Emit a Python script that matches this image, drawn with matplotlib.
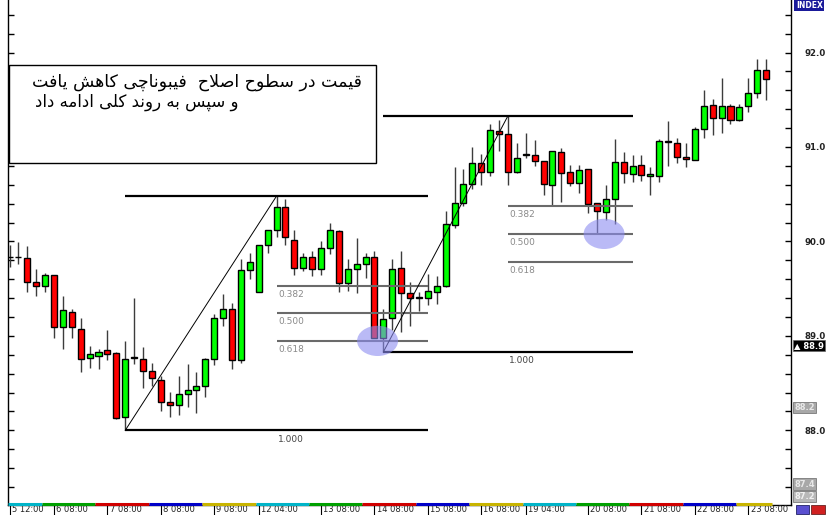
import matplotlib
matplotlib.use("Agg")
import matplotlib.pyplot as plt
import matplotlib.transforms as mtransforms
from matplotlib.patches import Rectangle, Ellipse

# 4h candles
opens = [89.84, 89.84, 89.83, 89.57, 89.53, 89.64, 89.09, 89.25, 89.07, 88.77,
         88.79, 88.85, 88.82, 88.14, 88.78, 88.76, 88.63, 88.53, 88.30, 88.27,
         88.39, 88.43, 88.47, 88.76, 89.19, 89.29, 88.75, 89.70, 89.47, 89.96,
         90.12, 90.36, 90.02, 89.72, 89.84, 89.71, 89.93, 90.11, 89.56, 89.71,
         89.76, 89.84, 88.98, 89.19, 89.72, 89.45, 89.41, 89.40, 89.47, 89.53,
         90.17, 90.41, 90.61, 90.83, 90.73, 91.17, 91.14, 90.73, 90.93, 90.91,
         90.85, 90.60, 90.95, 90.73, 90.62, 90.77, 90.41, 90.31, 90.45, 90.84,
         90.71, 90.81, 90.69, 90.69, 91.06, 91.04, 90.89, 90.86, 91.19, 91.44,
         91.31, 91.43, 91.29, 91.43, 91.57, 91.82]
highs = [89.96, 89.99, 89.95, 89.71, 89.67, 89.65, 89.42, 89.28, 89.19, 88.89,
         88.86, 89.06, 88.83, 88.95, 89.40, 88.88, 88.71, 88.58, 88.41, 88.58,
         88.70, 88.62, 88.77, 89.23, 89.44, 89.35, 89.81, 89.88, 89.96, 90.12,
         90.48, 90.45, 90.12, 89.88, 89.90, 90.00, 90.20, 90.12, 89.81, 90.04,
         89.88, 89.90, 89.28, 89.81, 89.90, 89.57, 89.47, 89.66, 89.63, 90.32,
         90.79, 90.77, 91.00, 90.93, 91.24, 91.29, 91.33, 91.04, 91.15, 91.07,
         90.85, 90.96, 90.99, 90.81, 90.81, 90.77, 90.41, 90.60, 91.08, 90.95,
         90.92, 90.92, 90.79, 91.08, 91.28, 91.09, 91.04, 91.21, 91.60, 91.51,
         91.73, 91.46, 91.45, 91.73, 91.93, 91.93]
lows = [89.73, 89.76, 89.46, 89.42, 89.46, 88.98, 88.86, 88.98, 88.62, 88.66,
        88.65, 88.75, 88.12, 88.00, 88.70, 88.45, 88.47, 88.21, 88.14, 88.16,
        88.25, 88.18, 88.35, 88.69, 89.10, 88.65, 88.71, 89.60, 89.47, 89.88,
        90.05, 89.96, 89.65, 89.69, 89.63, 89.65, 89.87, 89.46, 89.48, 89.45,
        89.61, 88.98, 88.83, 89.06, 89.04, 89.11, 89.26, 89.33, 89.34, 89.52,
        90.14, 90.37, 90.55, 90.60, 90.69, 90.96, 90.60, 90.72, 90.88, 90.80,
        90.49, 90.38, 90.42, 90.59, 90.51, 90.30, 90.09, 90.23, 90.18, 90.62,
        90.63, 90.64, 90.49, 90.63, 90.80, 90.83, 90.79, 90.86, 91.10, 91.13,
        91.15, 91.24, 91.28, 91.37, 91.52, 91.50]
closes = [89.835, 89.835, 89.57, 89.53, 89.64, 89.09, 89.27, 89.09, 88.76, 88.81,
          88.83, 88.81, 88.13, 88.76, 88.77, 88.63, 88.55, 88.30, 88.27, 88.39,
          88.43, 88.47, 88.76, 89.19, 89.29, 88.74, 89.70, 89.78, 89.96, 90.12,
          90.36, 90.05, 89.72, 89.84, 89.71, 89.93, 90.12, 89.56, 89.71, 89.76,
          89.84, 88.98, 89.18, 89.71, 89.45, 89.40, 89.40, 89.48, 89.53, 90.18,
          90.41, 90.61, 90.83, 90.73, 91.18, 91.14, 90.74, 90.88, 90.91, 90.85,
          90.61, 90.96, 90.72, 90.62, 90.76, 90.40, 90.32, 90.45, 90.84, 90.72,
          90.80, 90.70, 90.71, 91.06, 91.05, 90.89, 90.87, 91.19, 91.43, 91.31,
          91.43, 91.29, 91.42, 91.57, 91.82, 91.72]

time_idx = [0, 5, 11, 17, 23, 28, 35, 41, 47, 53, 58, 65, 71, 77, 83]
time_labels = ["5 12:00", "6 08:00", "7 08:00", "8 08:00", "9 08:00", "12 04:00",
               "13 08:00", "14 08:00", "15 08:00", "16 08:00", "19 04:00",
               "20 08:00", "21 08:00", "22 08:00", "23 08:00"]

# fibonacci swings: (low candle, high candle, right end of lines)
fib_swings = [(13, 30, 47), (42, 56, 70)]
fib_levels = [0.382, 0.500, 0.618]
# touched level for each swing (circled) and where the circle sits
fib_touch = [0.618, 0.500]
touch_x = [41.35, 66.8]

price_ticks = [88, 89, 90, 91, 92]
side_tags = [("\u25b2 88.9", 88.90, "black", "white"),
             ("88.2", 88.24, "#a8a8a8", "#e8e8e8"),
             ("87.4", 87.43, "#a8a8a8", "#e8e8e8"),
             ("87.2", 87.30, "#b8b8b8", "#f0f0f0")]

note_lines = ["قیمت در سطوح اصلاح  فیبوناچی کاهش یافت",
              "و سپس به روند کلی ادامه داد"]

# band colours under the time axis, every 6 candles
band_colors = ["#00b4c8", "#00a000", "#d00000", "#0000c8", "#c8b400"]


# --- minimal arabic/persian shaping, matplotlib has no bidi support ---
FORMS = {
    '\u0627': (0xFE8D, 0xFE8E),
    '\u0628': (0xFE8F, 0xFE90, 0xFE91, 0xFE92),
    '\u067E': (0xFB56, 0xFB57, 0xFB58, 0xFB59),
    '\u062A': (0xFE95, 0xFE96, 0xFE97, 0xFE98),
    '\u0686': (0xFB7A, 0xFB7B, 0xFB7C, 0xFB7D),
    '\u062D': (0xFEA1, 0xFEA2, 0xFEA3, 0xFEA4),
    '\u062F': (0xFEA9, 0xFEAA),
    '\u0631': (0xFEAD, 0xFEAE),
    '\u0633': (0xFEB1, 0xFEB2, 0xFEB3, 0xFEB4),
    '\u0634': (0xFEB5, 0xFEB6, 0xFEB7, 0xFEB8),
    '\u0635': (0xFEB9, 0xFEBA, 0xFEBB, 0xFEBC),
    '\u0637': (0xFEC1, 0xFEC2, 0xFEC3, 0xFEC4),
    '\u0641': (0xFED1, 0xFED2, 0xFED3, 0xFED4),
    '\u0642': (0xFED5, 0xFED6, 0xFED7, 0xFED8),
    '\u0643': (0xFED9, 0xFEDA, 0xFEDB, 0xFEDC),
    '\u06A9': (0xFB8E, 0xFB8F, 0xFB90, 0xFB91),
    '\u0644': (0xFEDD, 0xFEDE, 0xFEDF, 0xFEE0),
    '\u0645': (0xFEE1, 0xFEE2, 0xFEE3, 0xFEE4),
    '\u0646': (0xFEE5, 0xFEE6, 0xFEE7, 0xFEE8),
    '\u0647': (0xFEE9, 0xFEEA, 0xFEEB, 0xFEEC),
    '\u0648': (0xFEED, 0xFEEE),
    '\u064A': (0xFEF1, 0xFEF2, 0xFEF3, 0xFEF4),
    '\u06CC': (0xFBFC, 0xFBFD, 0xFBFE, 0xFBFF),
}


def shape(text):
    out = []
    i = 0
    while i < len(text):
        c = text[i]
        if c not in FORMS:
            out.append(c)
            i += 1
            continue
        prev = text[i - 1] if i > 0 else ''
        p = prev in FORMS and len(FORMS[prev]) == 4
        if c == '\u0644' and i + 1 < len(text) and text[i + 1] == '\u0627':
            out.append(chr(0xFEFC if p else 0xFEFB))
            i += 2
            continue
        nxt = text[i + 1] if i + 1 < len(text) else ''
        q = len(FORMS[c]) == 4 and nxt in FORMS
        f = FORMS[c]
        if p and q:
            out.append(chr(f[3]))
        elif p:
            out.append(chr(f[1]))
        elif q:
            out.append(chr(f[2]))
        else:
            out.append(chr(f[0]))
        i += 1
    return ''.join(reversed(out))


W, H = 826, 515
fig = plt.figure(figsize=(W / 100, H / 100), dpi=100)
ax = fig.add_axes([8 / W, 10 / H, 783 / W, 505 / H])
ax.set_xlim(-0.17, 87.8)
ax.set_ylim(87.21, 92.556)

n = len(opens)
x = list(range(n))

# wicks then bodies
ax.vlines(x, lows, highs, color='#3c3c3c', lw=1, zorder=2)
bottoms = [min(o, c) for o, c in zip(opens, closes)]
heights = [max(abs(c - o), 0.004) for o, c in zip(opens, closes)]
colors = ['#00ff00' if c > o else '#ff0000' for o, c in zip(opens, closes)]
ax.bar(x, heights, bottom=bottoms, width=0.68, color=colors,
       edgecolor='black', linewidth=1, zorder=3)

# fibonacci retracements
for k, (lo_i, hi_i, end) in enumerate(fib_swings):
    lo, hi = lows[lo_i], highs[hi_i]
    rng = hi - lo
    ax.plot([lo_i, hi_i], [lo, hi], color='black', lw=0.7, zorder=4)
    ax.hlines([hi, lo], lo_i, end, color='black', lw=1.6, zorder=4)
    for lev in fib_levels:
        y = hi - lev * rng
        ax.hlines(y, hi_i, end, color='#6a6a6a', lw=1.5, zorder=4)
        ax.annotate(f"{lev:.3f}", (hi_i, y), xytext=(1, -3),
                    textcoords='offset points', ha='left', va='top',
                    fontsize=6.5, color='#8a8a8a')
    ax.annotate("1.000", (hi_i, lo), xytext=(1, -3), textcoords='offset points',
                ha='left', va='top', fontsize=6.5, color='#444444')
    yt = hi - fib_touch[k] * rng
    ax.add_patch(Ellipse((touch_x[k], yt), 4.6, 0.32, facecolor='#8c8cf0',
                         edgecolor='none', alpha=0.6, zorder=5))

# note box
ax.add_patch(Rectangle((-0.06, 90.83), 41.2, 1.04, facecolor='white',
                       edgecolor='black', lw=1, zorder=6))
ax.text(2.5, 91.69, shape(note_lines[0]), fontsize=12.5, family=['DejaVu Sans'],
        ha='left', va='center', zorder=7)
ax.text(2.9, 91.48, shape(note_lines[1]), fontsize=12, family=['DejaVu Sans'],
        ha='left', va='center', zorder=7)

# axes styling
for s in ['left', 'right', 'bottom']:
    ax.spines[s].set_linewidth(1)
ax.spines['top'].set_visible(False)
ax.yaxis.tick_right()
ax.set_yticks(price_ticks)
ax.set_yticklabels([f"{p:.1f}" for p in price_ticks])
ax.set_yticks([88 + 0.2 * i for i in range(-3, 23)], minor=True)
ax.tick_params(axis='y', which='both', left=True, right=True, direction='in',
               length=4, width=1, labelsize=6.2, pad=10)
for t in ax.get_yticklabels():
    t.set_fontweight('bold')
    t.set_color('#222222')

ax.set_xticks(time_idx)
ax.set_xticklabels([])
ax.tick_params(axis='x', direction='out', length=7, width=0.8)
trans = mtransforms.blended_transform_factory(ax.transData, fig.transFigure)
for i, lab in zip(time_idx, time_labels):
    ax.text(i + 0.25, 0.6 / H, lab, transform=trans, ha='left', va='bottom',
            fontsize=6, color='#222222', clip_on=False)

# colour band along the time axis
band_trans = mtransforms.blended_transform_factory(ax.transData, ax.transAxes)
starts = [-0.17] + [4 - 0.35 + 6 * k for k in range(14)]
ends = starts[1:] + [n - 0.35]
for k, (a, b) in enumerate(zip(starts, ends)):
    ax.plot([a, b], [0.002, 0.002], transform=band_trans, color=band_colors[k % 5],
            lw=2.2, solid_capstyle='butt', clip_on=False, zorder=8)

# price tags on the right
tag_trans = mtransforms.blended_transform_factory(ax.transAxes, ax.transData)
for lab, y, bg, fg in side_tags:
    ax.text(1.004, y, lab, transform=tag_trans, ha='left', va='center',
            fontsize=6, fontweight='bold', color=fg, clip_on=False,
            bbox=dict(boxstyle='square,pad=0.15', facecolor=bg, edgecolor='#666666', lw=0.5))

fig.text(796 / W, 1 - 5 / H, "INDEX", ha='left', va='center', fontsize=5.5,
         color='white', fontweight='bold',
         bbox=dict(boxstyle='square,pad=0.2', facecolor='#1a1a9a', edgecolor='none'))
fig.patches.append(Rectangle((796 / W, 1 / H), 13 / W, 9 / H, transform=fig.transFigure,
                             facecolor='#5a4fd0', edgecolor='#222266', lw=0.6))
fig.patches.append(Rectangle((811 / W, 1 / H), 14 / W, 9 / H, transform=fig.transFigure,
                             facecolor='#d02020', edgecolor='#662222', lw=0.6))

fig.savefig("out.png", dpi=100)
